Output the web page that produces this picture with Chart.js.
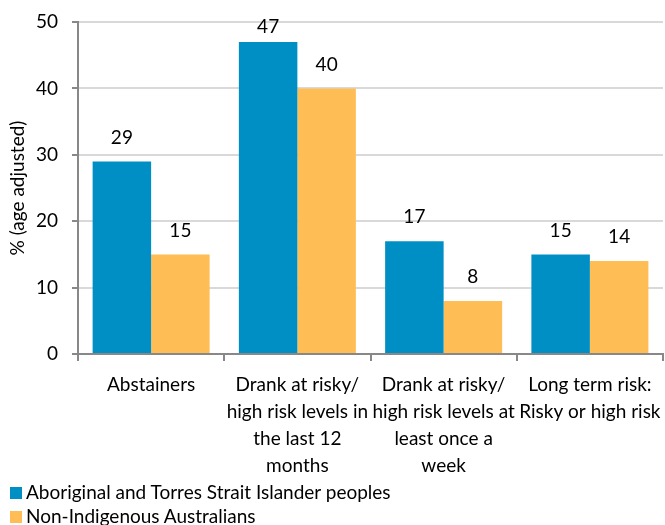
<!DOCTYPE html>
<html>
<head>
<meta charset="utf-8">
<script src="https://cdn.jsdelivr.net/npm/chart.js@4"></script>
<style>
  html, body { margin: 0; padding: 0; background: #fff; }
  #wrap { position: relative; width: 665px; height: 525px; }
  #legend { position: absolute; left: 10px; top: 480px; font: 19px Lato, 'Open Sans', sans-serif; color: #000; }
  #legend div { height: 24px; line-height: 24px; white-space: nowrap; }
  #legend span { display: inline-block; width: 12px; height: 12px; margin-right: 4px; vertical-align: 0px; }
</style>
</head>
<body>
<div id="wrap">
  <canvas id="chart" width="665" height="525"></canvas>
  <div id="legend"></div>
</div>
<script>
const categories = [
    "Abstainers",
    ["Drank at risky/", "high risk levels in", "the last 12", "months"],
    ["Drank at risky/", "high risk levels at", "least once a", "week"],
    ["Long term risk:", "Risky or high risk"]
];
const indigenous = [29, 47, 17, 15];
const nonIndigenous = [15, 40, 8, 14];
const seriesNames = ["Aboriginal and Torres Strait Islander peoples", "Non-Indigenous Australians"];
const seriesColors = ["#008FC5", "#FFBE55"];
const yTicks = [0, 10, 20, 30, 40, 50];

const FONT = "Lato, 'Open Sans', sans-serif";

// Draw value labels above each bar (kept inside the plot near the top)
const valueLabels = {
    id: "valueLabels",
    afterDatasetsDraw(chart) {
        const ctx = chart.ctx;
        const top = chart.chartArea.top;
        ctx.save();
        ctx.font = "19px " + FONT;
        ctx.fillStyle = "#000";
        ctx.textAlign = "center";
        ctx.textBaseline = "middle";
        chart.data.datasets.forEach((ds, i) => {
            chart.getDatasetMeta(i).data.forEach((bar, j) => {
                ctx.fillText(ds.data[j], bar.x, Math.max(bar.y - 24, top + 5));
            });
        });
        ctx.restore();
    }
};

const chart = new Chart(document.getElementById("chart").getContext("2d"), {
    type: "bar",
    data: {
        labels: categories,
        datasets: [
            { label: seriesNames[0], data: indigenous, backgroundColor: seriesColors[0] },
            { label: seriesNames[1], data: nonIndigenous, backgroundColor: seriesColors[1] }
        ]
    },
    options: {
        responsive: false,
        animation: false,
        datasets: { bar: { categoryPercentage: 0.8, barPercentage: 1.0 } },
        layout: { padding: { top: 22, right: 2, left: 0, bottom: 36 } },
        plugins: {
            legend: { display: false },
            tooltip: { enabled: false }
        },
        scales: {
            x: {
                offset: true,
                afterFit(axis) { axis.paddingLeft = 0; axis.paddingRight = 0; },
                grid: {
                    offset: true,
                    drawOnChartArea: true,
                    // only the right-hand frame line shows inside the plot
                    color: c => c.index === categories.length ? "#d9d9d9" : "rgba(0,0,0,0)",
                    tickColor: "#888",
                    tickLength: 7,
                    lineWidth: 2
                },
                border: { color: "#888", width: 2 },
                ticks: { font: { size: 19, family: FONT, lineHeight: 1.42 }, color: "#000", maxRotation: 0, autoSkip: false, padding: 10 }
            },
            y: {
                min: 0,
                max: 50,
                afterBuildTicks(axis) { axis.ticks = yTicks.map(v => ({ value: v })); },
                afterFit(axis) { axis.width = 78; axis.paddingTop = 0; axis.paddingBottom = 0; },
                grid: { color: "#d9d9d9", lineWidth: 2, tickLength: 6, tickColor: "#888" },
                border: { color: "#888", width: 2 },
                ticks: { font: { size: 19, family: FONT }, color: "#000", padding: 14 },
                title: { display: true, text: "% (age adjusted)", font: { size: 19, family: FONT }, color: "#000", padding: { top: 6, bottom: 8 } }
            }
        }
    },
    plugins: [valueLabels]
});

// legend in two rows like the original
const legend = document.getElementById("legend");
chart.data.datasets.forEach(ds => {
    const row = document.createElement("div");
    const box = document.createElement("span");
    box.style.background = ds.backgroundColor;
    row.appendChild(box);
    row.appendChild(document.createTextNode(ds.label));
    legend.appendChild(row);
});
</script>
</body>
</html>
